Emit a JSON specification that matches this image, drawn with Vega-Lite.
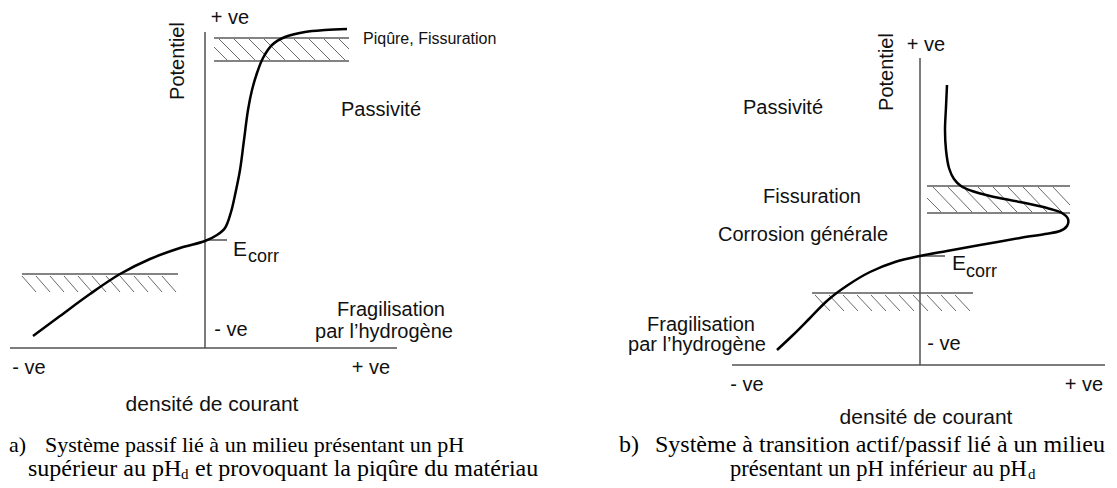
{
  "$schema": "https://vega.github.io/schema/vega-lite/v6.json",
  "width": 1117,
  "height": 488,
  "autosize": {"type": "fit", "contains": "padding"},
  "padding": 0,
  "background": "white",
  "config": {"view": {"stroke": null}},
  "datasets": {
    "axes": [
      {"part": "a-vertical", "x": 205, "y": 32, "x2": 205, "y2": 348},
      {"part": "a-horizontal", "x": 10, "y": 348, "x2": 397, "y2": 348},
      {"part": "a-ecorr", "x": 205, "y": 240, "x2": 227, "y2": 240},
      {"part": "b-vertical", "x": 920, "y": 58, "x2": 920, "y2": 365},
      {"part": "b-horizontal", "x": 732, "y": 365, "x2": 1105, "y2": 365},
      {"part": "b-ecorr", "x": 920, "y": 256, "x2": 945, "y2": 256}
    ],
    "bands": [
      {"band": "a-top", "x": 214, "y": 38, "x2": 349, "y2": 38},
      {"band": "a-top", "x": 214, "y": 61, "x2": 349, "y2": 61},
      {"band": "a-low", "x": 22, "y": 274, "x2": 178, "y2": 274},
      {"band": "b-top", "x": 927, "y": 186, "x2": 1070, "y2": 186},
      {"band": "b-top", "x": 927, "y": 213, "x2": 1070, "y2": 213},
      {"band": "b-low", "x": 812, "y": 293, "x2": 973, "y2": 293}
    ],
    "hatches": [
      {"band": "a-top", "x": 214, "y": 47, "x2": 227, "y2": 60},
      {"band": "a-top", "x": 219, "y": 39, "x2": 240, "y2": 60},
      {"band": "a-top", "x": 234, "y": 39, "x2": 255, "y2": 60},
      {"band": "a-top", "x": 249, "y": 39, "x2": 270, "y2": 60},
      {"band": "a-top", "x": 264, "y": 39, "x2": 285, "y2": 60},
      {"band": "a-top", "x": 279, "y": 39, "x2": 300, "y2": 60},
      {"band": "a-top", "x": 294, "y": 39, "x2": 315, "y2": 60},
      {"band": "a-top", "x": 309, "y": 39, "x2": 330, "y2": 60},
      {"band": "a-top", "x": 324, "y": 39, "x2": 345, "y2": 60},
      {"band": "a-top", "x": 339, "y": 39, "x2": 349, "y2": 49},
      {"band": "a-low", "x": 22, "y": 276, "x2": 36, "y2": 292},
      {"band": "a-low", "x": 36, "y": 276, "x2": 50, "y2": 292},
      {"band": "a-low", "x": 50, "y": 276, "x2": 64, "y2": 292},
      {"band": "a-low", "x": 64, "y": 276, "x2": 78, "y2": 292},
      {"band": "a-low", "x": 78, "y": 276, "x2": 92, "y2": 292},
      {"band": "a-low", "x": 92, "y": 276, "x2": 106, "y2": 292},
      {"band": "a-low", "x": 106, "y": 276, "x2": 120, "y2": 292},
      {"band": "a-low", "x": 120, "y": 276, "x2": 134, "y2": 292},
      {"band": "a-low", "x": 134, "y": 276, "x2": 148, "y2": 292},
      {"band": "a-low", "x": 148, "y": 276, "x2": 162, "y2": 292},
      {"band": "a-low", "x": 162, "y": 276, "x2": 176, "y2": 292},
      {"band": "b-top", "x": 927, "y": 198, "x2": 941, "y2": 212},
      {"band": "b-top", "x": 933, "y": 187, "x2": 957, "y2": 212},
      {"band": "b-top", "x": 948, "y": 187, "x2": 972, "y2": 212},
      {"band": "b-top", "x": 963, "y": 187, "x2": 987, "y2": 212},
      {"band": "b-top", "x": 978, "y": 187, "x2": 1002, "y2": 212},
      {"band": "b-top", "x": 993, "y": 187, "x2": 1017, "y2": 212},
      {"band": "b-top", "x": 1008, "y": 187, "x2": 1032, "y2": 212},
      {"band": "b-top", "x": 1023, "y": 187, "x2": 1047, "y2": 212},
      {"band": "b-top", "x": 1038, "y": 187, "x2": 1062, "y2": 212},
      {"band": "b-top", "x": 1053, "y": 187, "x2": 1070, "y2": 205},
      {"band": "b-low", "x": 815, "y": 295, "x2": 830, "y2": 311},
      {"band": "b-low", "x": 829, "y": 295, "x2": 844, "y2": 311},
      {"band": "b-low", "x": 843, "y": 295, "x2": 858, "y2": 311},
      {"band": "b-low", "x": 857, "y": 295, "x2": 872, "y2": 311},
      {"band": "b-low", "x": 871, "y": 295, "x2": 886, "y2": 311},
      {"band": "b-low", "x": 885, "y": 295, "x2": 900, "y2": 311},
      {"band": "b-low", "x": 899, "y": 295, "x2": 914, "y2": 311},
      {"band": "b-low", "x": 913, "y": 295, "x2": 928, "y2": 311},
      {"band": "b-low", "x": 927, "y": 295, "x2": 942, "y2": 311},
      {"band": "b-low", "x": 941, "y": 295, "x2": 956, "y2": 311},
      {"band": "b-low", "x": 955, "y": 295, "x2": 970, "y2": 311}
    ],
    "curves": [
      {"curve": "a", "order": 1, "x": 33, "y": 336},
      {"curve": "a", "order": 2, "x": 60, "y": 316},
      {"curve": "a", "order": 3, "x": 90, "y": 294},
      {"curve": "a", "order": 4, "x": 120, "y": 274},
      {"curve": "a", "order": 5, "x": 150, "y": 259},
      {"curve": "a", "order": 6, "x": 180, "y": 248},
      {"curve": "a", "order": 7, "x": 205, "y": 241},
      {"curve": "a", "order": 8, "x": 217, "y": 235},
      {"curve": "a", "order": 9, "x": 225, "y": 228},
      {"curve": "a", "order": 10, "x": 231, "y": 212},
      {"curve": "a", "order": 11, "x": 235, "y": 195},
      {"curve": "a", "order": 12, "x": 240, "y": 170},
      {"curve": "a", "order": 13, "x": 244, "y": 140},
      {"curve": "a", "order": 14, "x": 248, "y": 110},
      {"curve": "a", "order": 15, "x": 252, "y": 90},
      {"curve": "a", "order": 16, "x": 257, "y": 73},
      {"curve": "a", "order": 17, "x": 263, "y": 58},
      {"curve": "a", "order": 18, "x": 272, "y": 45},
      {"curve": "a", "order": 19, "x": 285, "y": 37},
      {"curve": "a", "order": 20, "x": 305, "y": 32},
      {"curve": "a", "order": 21, "x": 325, "y": 30},
      {"curve": "a", "order": 22, "x": 347, "y": 29},
      {"curve": "b", "order": 1, "x": 947, "y": 85},
      {"curve": "b", "order": 2, "x": 946, "y": 107},
      {"curve": "b", "order": 3, "x": 945, "y": 130},
      {"curve": "b", "order": 4, "x": 946, "y": 150},
      {"curve": "b", "order": 5, "x": 949, "y": 168},
      {"curve": "b", "order": 6, "x": 954, "y": 179},
      {"curve": "b", "order": 7, "x": 961, "y": 186},
      {"curve": "b", "order": 8, "x": 972, "y": 191},
      {"curve": "b", "order": 9, "x": 990, "y": 196},
      {"curve": "b", "order": 10, "x": 1020, "y": 202},
      {"curve": "b", "order": 11, "x": 1047, "y": 208},
      {"curve": "b", "order": 12, "x": 1062, "y": 213},
      {"curve": "b", "order": 13, "x": 1068, "y": 219},
      {"curve": "b", "order": 14, "x": 1067, "y": 226},
      {"curve": "b", "order": 15, "x": 1060, "y": 231},
      {"curve": "b", "order": 16, "x": 1045, "y": 234},
      {"curve": "b", "order": 17, "x": 1020, "y": 238},
      {"curve": "b", "order": 18, "x": 980, "y": 245},
      {"curve": "b", "order": 19, "x": 947, "y": 251},
      {"curve": "b", "order": 20, "x": 920, "y": 256},
      {"curve": "b", "order": 21, "x": 895, "y": 262},
      {"curve": "b", "order": 22, "x": 870, "y": 272},
      {"curve": "b", "order": 23, "x": 848, "y": 285},
      {"curve": "b", "order": 24, "x": 828, "y": 300},
      {"curve": "b", "order": 25, "x": 810, "y": 318},
      {"curve": "b", "order": 26, "x": 793, "y": 335},
      {"curve": "b", "order": 27, "x": 777, "y": 350}
    ],
    "labels": [
      {"role": "label", "label": "+ ve", "x": 230, "y": 18},
      {"role": "label", "label": "Passivité", "x": 381, "y": 110},
      {"role": "label", "label": "Fragilisation", "x": 391, "y": 310},
      {"role": "label", "label": "par l’hydrogène", "x": 384, "y": 332},
      {"role": "label", "label": "- ve", "x": 231, "y": 330},
      {"role": "label", "label": "- ve", "x": 29, "y": 368},
      {"role": "label", "label": "+ ve", "x": 371, "y": 368},
      {"role": "label", "label": "+ ve", "x": 926, "y": 45},
      {"role": "label", "label": "Passivité", "x": 783, "y": 108},
      {"role": "label", "label": "Fissuration", "x": 812, "y": 197},
      {"role": "label", "label": "Corrosion générale", "x": 803, "y": 235},
      {"role": "label", "label": "Fragilisation", "x": 701, "y": 325},
      {"role": "label", "label": "par l’hydrogène", "x": 697, "y": 345},
      {"role": "label", "label": "- ve", "x": 944, "y": 344},
      {"role": "label", "label": "- ve", "x": 747, "y": 385},
      {"role": "label", "label": "+ ve", "x": 1084, "y": 385},
      {"role": "axisTitle", "label": "Potentiel", "x": 178, "y": 61},
      {"role": "axisTitle", "label": "Potentiel", "x": 887, "y": 72},
      {"role": "xTitle", "label": "densité de courant", "x": 212, "y": 405},
      {"role": "xTitle", "label": "densité de courant", "x": 926, "y": 418},
      {"role": "note", "label": "Piqûre, Fissuration", "x": 363, "y": 39},
      {"role": "E", "label": "E", "x": 233, "y": 250},
      {"role": "corr", "label": "corr", "x": 248, "y": 257},
      {"role": "E", "label": "E", "x": 952, "y": 264},
      {"role": "corr", "label": "corr", "x": 966, "y": 272},
      {"role": "captionA1", "label": "a)", "x": 9, "y": 445},
      {"role": "captionA1", "label": "Système passif lié à un milieu présentant un pH", "x": 45, "y": 445},
      {"role": "captionLarge", "label": "supérieur au pH", "x": 28, "y": 469},
      {"role": "sub", "label": "d", "x": 181, "y": 474},
      {"role": "captionLarge", "label": "et provoquant la piqûre du matériau", "x": 195, "y": 469},
      {"role": "captionLarge", "label": "b)", "x": 619, "y": 445},
      {"role": "captionLarge", "label": "Système à transition actif/passif lié à un milieu", "x": 655, "y": 445},
      {"role": "captionMid", "label": "présentant un pH inférieur au pH", "x": 730, "y": 469},
      {"role": "sub", "label": "d", "x": 1028, "y": 474}
    ]
  },
  "encoding": {
    "x": {"field": "x", "type": "quantitative", "scale": {"domain": [0, 1117], "nice": false, "zero": false}, "axis": null},
    "y": {"field": "y", "type": "quantitative", "scale": {"domain": [0, 488], "nice": false, "zero": false, "reverse": true}, "axis": null}
  },
  "layer": [
    {
      "data": {"name": "hatches"},
      "mark": {"type": "rule", "stroke": "#6a6a6a", "strokeWidth": 1},
      "encoding": {"x2": {"field": "x2"}, "y2": {"field": "y2"}}
    },
    {
      "data": {"name": "bands"},
      "mark": {"type": "rule", "stroke": "#5a5a5a", "strokeWidth": 1.5},
      "encoding": {"x2": {"field": "x2"}, "y2": {"field": "y2"}}
    },
    {
      "data": {"name": "axes"},
      "mark": {"type": "rule", "stroke": "#505050", "strokeWidth": 1.5},
      "encoding": {"x2": {"field": "x2"}, "y2": {"field": "y2"}}
    },
    {
      "data": {"name": "curves"},
      "mark": {"type": "line", "stroke": "black", "strokeWidth": 2.5, "interpolate": "catmull-rom"},
      "encoding": {"detail": {"field": "curve"}, "order": {"field": "order", "type": "quantitative"}}
    },
    {
      "data": {"name": "labels"},
      "transform": [{"filter": "datum.role === 'label'"}],
      "mark": {"type": "text", "font": "Liberation Sans", "fontSize": 20, "align": "center", "baseline": "middle", "color": "#111"},
      "encoding": {"text": {"field": "label"}}
    },
    {
      "data": {"name": "labels"},
      "transform": [{"filter": "datum.role === 'axisTitle'"}],
      "mark": {"type": "text", "font": "Liberation Sans", "fontSize": 20, "align": "center", "baseline": "middle", "angle": 270, "color": "#111"},
      "encoding": {"text": {"field": "label"}}
    },
    {
      "data": {"name": "labels"},
      "transform": [{"filter": "datum.role === 'xTitle'"}],
      "mark": {"type": "text", "font": "Liberation Sans", "fontSize": 21, "align": "center", "baseline": "middle", "color": "#111"},
      "encoding": {"text": {"field": "label"}}
    },
    {
      "data": {"name": "labels"},
      "transform": [{"filter": "datum.role === 'note'"}],
      "mark": {"type": "text", "font": "Liberation Sans", "fontSize": 16, "align": "left", "baseline": "middle", "color": "#111"},
      "encoding": {"text": {"field": "label"}}
    },
    {
      "data": {"name": "labels"},
      "transform": [{"filter": "datum.role === 'E'"}],
      "mark": {"type": "text", "font": "Liberation Sans", "fontSize": 21, "align": "left", "baseline": "middle", "color": "#111"},
      "encoding": {"text": {"field": "label"}}
    },
    {
      "data": {"name": "labels"},
      "transform": [{"filter": "datum.role === 'corr'"}],
      "mark": {"type": "text", "font": "Liberation Sans", "fontSize": 18, "align": "left", "baseline": "middle", "color": "#111"},
      "encoding": {"text": {"field": "label"}}
    },
    {
      "data": {"name": "labels"},
      "transform": [{"filter": "datum.role === 'captionA1'"}],
      "mark": {"type": "text", "font": "Liberation Serif", "fontSize": 22, "align": "left", "baseline": "middle", "color": "#000"},
      "encoding": {"text": {"field": "label"}}
    },
    {
      "data": {"name": "labels"},
      "transform": [{"filter": "datum.role === 'captionLarge'"}],
      "mark": {"type": "text", "font": "Liberation Serif", "fontSize": 24, "align": "left", "baseline": "middle", "color": "#000"},
      "encoding": {"text": {"field": "label"}}
    },
    {
      "data": {"name": "labels"},
      "transform": [{"filter": "datum.role === 'captionMid'"}],
      "mark": {"type": "text", "font": "Liberation Serif", "fontSize": 22.5, "align": "left", "baseline": "middle", "color": "#000"},
      "encoding": {"text": {"field": "label"}}
    },
    {
      "data": {"name": "labels"},
      "transform": [{"filter": "datum.role === 'sub'"}],
      "mark": {"type": "text", "font": "Liberation Serif", "fontSize": 15, "align": "left", "baseline": "middle", "color": "#000"},
      "encoding": {"text": {"field": "label"}}
    }
  ]
}
